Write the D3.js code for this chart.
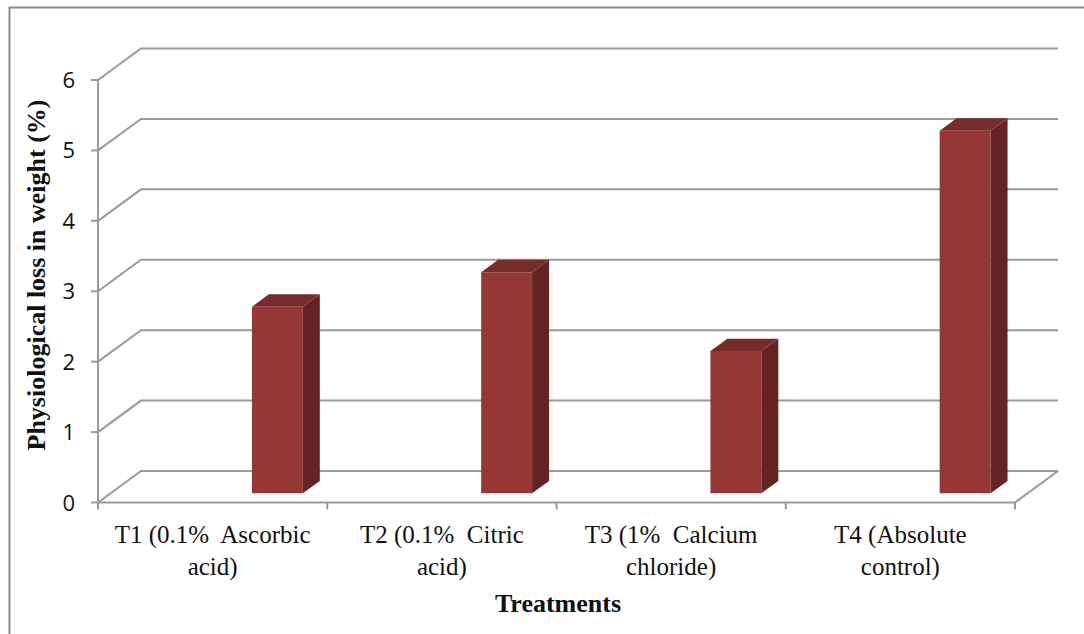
<!DOCTYPE html>
<html>
<head>
<meta charset="utf-8">
<script src="https://cdn.jsdelivr.net/npm/d3@7"></script>
<style>
  html, body { margin: 0; padding: 0; background: #fff; }
  svg { display: block; }
</style>
</head>
<body>
<svg id="chart" width="1084" height="634"></svg>
<script>
// Treatments and their physiological loss in weight (%)
const categories = ["T1", "T2", "T3", "T4"];
const labelLines = [
  ["T1 (0.1%  Ascorbic", "acid)"],
  ["T2 (0.1%  Citric", "acid)"],
  ["T3 (1%  Calcium", "chloride)"],
  ["T4 (Absolute", "control)"]
];
const values = [2.65, 3.14, 2.02, 5.15];
const yTicks = [0, 1, 2, 3, 4, 5, 6];

const svg = d3.select("#chart");

// plot frame: front plane plus an oblique depth offset
const left = 98, right = 1015;
const DX = 43, DY = -31.5;

const x = d3.scaleBand().domain(categories).range([left, right]).padding(0);
const y = d3.scaleLinear().domain([0, 6]).range([502.5, 80]);

const proj = (px, v, d) => [px + d * DX, y(v) + d * DY];

const gridColor = "#9a9a9a";

// outer chart border
svg.append("path")
  .attr("d", "M9.5,640 L9.5,7.5 L1090,7.5")
  .attr("fill", "none")
  .attr("stroke", "#8c8c8c")
  .attr("stroke-width", 2);

const grid = svg.append("g")
  .attr("fill", "none")
  .attr("stroke", gridColor)
  .attr("stroke-width", 2);

// back-wall gridlines and side-wall diagonals
yTicks.forEach(v => {
  const a = proj(left, v, 0), b = proj(left, v, 1), c = proj(right, v, 1);
  grid.append("path").attr("d", `M${a[0]},${a[1]} L${b[0]},${b[1]} L${c[0]},${c[1]}`);
});

// floor outline
{
  const a = proj(left, 0, 0), b = proj(right, 0, 0), c = proj(right, 0, 1);
  grid.append("path").attr("d", `M${a[0]},${a[1]} L${b[0]},${b[1]} L${c[0]},${c[1]}`);
}

// vertical value axis with ticks
grid.append("line")
  .attr("x1", left).attr("x2", left)
  .attr("y1", y(6)).attr("y2", y(0) + 1);
yTicks.forEach(v => {
  grid.append("line")
    .attr("x1", left - 7).attr("x2", left)
    .attr("y1", y(v)).attr("y2", y(v));
});

// category tick marks below the floor
const catEdges = categories.map(c => x(c)).concat([right]);
catEdges.forEach(px => {
  grid.append("line")
    .attr("x1", px).attr("x2", px)
    .attr("y1", y(0)).attr("y2", y(0) + 7);
});

// value tick labels
svg.append("g")
  .selectAll("text")
  .data(yTicks)
  .join("text")
  .attr("x", 75)
  .attr("y", d => y(d) + 8)
  .attr("text-anchor", "end")
  .attr("font-family", "'Open Sans', 'Liberation Sans', sans-serif")
  .attr("font-size", 22)
  .attr("fill", "#111")
  .text(d => d);

// 3D columns
const d0 = 0.29, d1 = 0.685;
const barOffset = 0.617, barWidth = 0.222;
const bars = svg.append("g");
categories.forEach((c, i) => {
  const v = values[i];
  const xl = x(c) + barOffset * x.bandwidth();
  const xr = xl + barWidth * x.bandwidth();
  const fbl = proj(xl, 0, d0), fbr = proj(xr, 0, d0);
  const ftl = proj(xl, v, d0), ftr = proj(xr, v, d0);
  const btl = proj(xl, v, d1), btr = proj(xr, v, d1);
  const bbr = proj(xr, 0, d1);
  const poly = pts => "M" + pts.map(p => p.join(",")).join(" L") + " Z";
  // side face
  bars.append("path").attr("d", poly([fbr, ftr, btr, bbr])).attr("fill", "#632423");
  // top face
  bars.append("path").attr("d", poly([ftl, btl, btr, ftr])).attr("fill", "#762c2a");
  // front face
  bars.append("path").attr("d", poly([fbl, ftl, ftr, fbr])).attr("fill", "#953735");
});

// category labels
const catG = svg.append("g")
  .attr("font-family", "'Liberation Serif', 'Times New Roman', serif")
  .attr("font-size", 25)
  .attr("fill", "#111")
  .attr("text-anchor", "middle");
categories.forEach((c, i) => {
  const cx = x(c) + x.bandwidth() / 2;
  labelLines[i].forEach((line, j) => {
    catG.append("text")
      .attr("x", cx)
      .attr("y", 543 + j * 32)
      .attr("xml:space", "preserve")
      .style("white-space", "pre")
      .text(line);
  });
});

// axis titles
svg.append("text")
  .attr("x", 558)
  .attr("y", 612)
  .attr("text-anchor", "middle")
  .attr("font-family", "'Liberation Serif', 'Times New Roman', serif")
  .attr("font-weight", "bold")
  .attr("font-size", 26)
  .attr("fill", "#111")
  .text("Treatments");

svg.append("text")
  .attr("transform", "translate(45,275) rotate(-90)")
  .attr("text-anchor", "middle")
  .attr("font-family", "'Liberation Serif', 'Times New Roman', serif")
  .attr("font-weight", "bold")
  .attr("font-size", 26)
  .attr("fill", "#111")
  .text("Physiological loss in weight (%)");
</script>
</body>
</html>
